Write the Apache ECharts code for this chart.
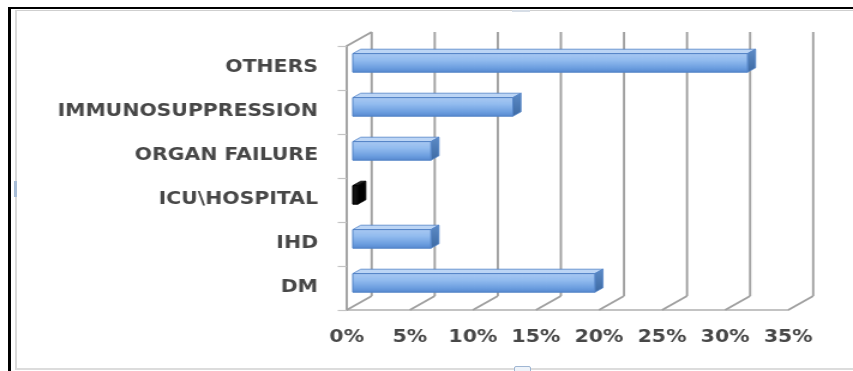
<!DOCTYPE html>
<html>
<head>
<meta charset="utf-8">
<script src="https://cdn.jsdelivr.net/npm/echarts@6/dist/echarts.min.js"></script>
<style>
  html, body { margin: 0; padding: 0; background: #fff; overflow: hidden; }
  body { width: 853px; height: 371px; position: relative; }
  #outer { position: absolute; left: 8px; top: 7px; width: 900px; height: 400px;
           border-left: 3px solid #000; border-top: 2px solid #000; }
  #inner { position: absolute; left: 15px; top: 10px; width: 900px; height: 357px;
           border-left: 2px solid #dadada; border-top: 1px solid #cfcfcf; border-bottom: 2px solid #dcdcdc; }
  #handleL { position: absolute; left: 14px; top: 181px; width: 3px; height: 16px; background: #a7bcd6; }
  #handleB { position: absolute; left: 514px; top: 366px; width: 15px; height: 8px; border: 1px solid #9fb6d3; border-radius: 2px; background: #eef3f9; }
  #handleT { position: absolute; left: 512px; top: 10px; width: 18px; height: 2px; background: #d6dde6; }
  #chart { position: absolute; left: 0; top: 0; width: 711px; height: 371px;
           transform: scaleX(1.19972); transform-origin: 0 0; }
</style>
</head>
<body>
<div id="outer"></div>
<div id="inner"></div>
<div id="handleL"></div>
<div id="handleB"></div>
<div id="handleT"></div>
<div id="chart"></div>
<script>
// Risk factors, bottom to top
const categories = ['DM', 'IHD', 'ICU\\HOSPITAL', 'ORGAN FAILURE', 'IMMUNOSUPPRESSION', 'OTHERS'];
const percentages = [19.2, 6.2, 0.4, 6.2, 12.7, 31.3];
const xTicks = [0, 5, 10, 15, 20, 25, 30, 35];

// Pseudo-3D geometry (chart pixels)
const DEPTH_X = 20.8, DEPTH_Y = -14;      // back wall offset
const FACE_X = 5, FACE_Y = -3.4;          // bar front face offset
const BAR_DX = 6.7, BAR_DY = -4.4;        // bar thickness
const GRID_COLOR = '#a0a0a0';
const darkBars = new Set(['ICU\\HOSPITAL']);

const chart = echarts.init(document.getElementById('chart'), null, { renderer: 'canvas' });

function renderFrame(params, api) {
  const v = api.value(0);
  const cs = params.coordSys;
  const x = api.coord([v, 0])[0];
  const floorY = cs.y + cs.height;
  const topY = cs.y;
  const style = { stroke: GRID_COLOR, lineWidth: 1.9 };
  const children = [
    { type: 'line', shape: { x1: x, y1: floorY, x2: x + DEPTH_X, y2: floorY + DEPTH_Y }, style },
    { type: 'line', shape: { x1: x + DEPTH_X, y1: floorY + DEPTH_Y, x2: x + DEPTH_X, y2: topY + DEPTH_Y }, style }
  ];
  if (v === xTicks[0]) {
    children.push({ type: 'line', shape: { x1: x, y1: topY, x2: x + DEPTH_X, y2: topY + DEPTH_Y }, style });
  }
  return { type: 'group', children };
}

function renderBar(params, api) {
  const v = api.value(0);
  const idx = api.value(1);
  const p0 = api.coord([0, idx]);
  const p1 = api.coord([v, idx]);
  const xL = p0[0] + FACE_X, xR = p1[0] + FACE_X;
  const yT = p0[1] - 11 + FACE_Y, yB = p0[1] + 7.6 + FACE_Y;
  const dark = darkBars.has(categories[idx]);
  const frontFill = dark ? '#111' : new echarts.graphic.LinearGradient(0, 0, 0, 1, [
    { offset: 0, color: '#a9c9f2' },
    { offset: 0.35, color: '#93bcef' },
    { offset: 0.75, color: '#6d9fe0' },
    { offset: 1, color: '#5487cf' }
  ]);
  const topFill = dark ? '#222' : '#bcd5f5';
  const sideFill = dark ? '#000' : new echarts.graphic.LinearGradient(0, 0, 0, 1, [
    { offset: 0, color: '#5d8bc6' },
    { offset: 1, color: '#3d6aa4' }
  ]);
  const edge = dark ? '#000' : '#5283c6';
  return {
    type: 'group',
    children: [
      { type: 'polygon', shape: { points: [[xL, yT], [xR, yT], [xR + BAR_DX, yT + BAR_DY], [xL + BAR_DX, yT + BAR_DY]] },
        style: { fill: topFill, stroke: edge, lineWidth: 0.8 } },
      { type: 'polygon', shape: { points: [[xR, yT], [xR + BAR_DX, yT + BAR_DY], [xR + BAR_DX, yB + BAR_DY], [xR, yB]] },
        style: { fill: sideFill, stroke: edge, lineWidth: 0.8 } },
      { type: 'rect', shape: { x: xL, y: yT, width: Math.max(xR - xL, 0.5), height: yB - yT },
        style: { fill: frontFill, stroke: edge, lineWidth: 1 } }
    ]
  };
}

const labelFont = { fontFamily: 'DejaVu Sans', fontWeight: 'bold', fontSize: 17, color: '#474747' };

chart.setOption({
  animation: false,
  backgroundColor: 'transparent',
  grid: { left: 289, right: 54, top: 46, bottom: 61, containLabel: false },
  xAxis: {
    type: 'value', min: 0, max: 35, interval: 5,
    axisLine: { show: true, lineStyle: { color: '#b0b0b0', width: 1.6 } },
    axisTick: { show: false },
    splitLine: { show: false },
    axisLabel: Object.assign({ formatter: '{value}%', margin: 19 }, labelFont)
  },
  yAxis: {
    type: 'category', data: categories,
    axisLine: { show: true, lineStyle: { color: GRID_COLOR, width: 1.9 } },
    axisTick: { show: true, length: 7.5, lineStyle: { color: '#c4c4c4', width: 1.2 } },
    splitLine: { show: false },
    axisLabel: Object.assign({ margin: 24 }, labelFont)
  },
  series: [
    {
      type: 'custom', name: 'frame', renderItem: renderFrame, silent: true, z: 1,
      data: xTicks.map(v => [v, 0]), encode: { x: 0, y: 1 }
    },
    {
      type: 'custom', name: 'share', renderItem: renderBar, z: 3,
      data: percentages.map((v, i) => [v, i]), encode: { x: 0, y: 1 }
    }
  ]
});
</script>
</body>
</html>
